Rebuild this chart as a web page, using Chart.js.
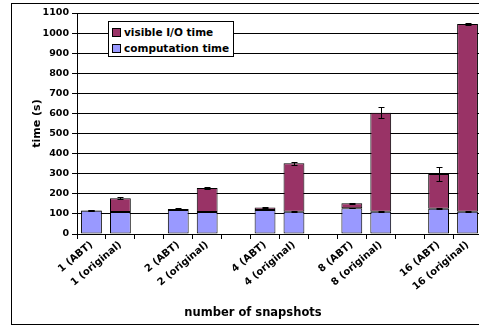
<!DOCTYPE html>
<html>
<head>
<meta charset="utf-8">
<script src="https://cdn.jsdelivr.net/npm/chart.js@4/dist/chart.umd.min.js"></script>
<style>
html,body{margin:0;padding:0;overflow:hidden;background:#fff;width:479px;height:328px;}
#frame{position:absolute;left:11px;top:3px;width:470px;height:320px;border:1px solid #000;}
#c{display:block;}
#legend{position:absolute;left:108px;top:21px;width:124px;height:34px;border:1px solid #000;background:#fff;
  font-family:"DejaVu Sans",sans-serif;font-weight:bold;font-size:10.5px;color:#000;}
.row{position:absolute;left:3px;height:14px;line-height:14px;white-space:nowrap;}
.sw{display:inline-block;width:7px;height:7px;border:1px solid #000;vertical-align:middle;margin-right:3px;position:relative;top:-1px;}
#xtitle{position:absolute;left:12px;width:482px;top:305px;text-align:center;font-family:"DejaVu Sans",sans-serif;font-weight:bold;font-size:11.5px;color:#000;}
</style>
</head>
<body>
<div id="frame"><canvas id="c" width="470" height="320"></canvas></div>
<div id="legend">
  <div class="row" style="top:3px"><span class="sw" style="background:#993366"></span>visible I/O time</div>
  <div class="row" style="top:19px"><span class="sw" style="background:#9999FF"></span>computation time</div>
</div>
<div id="xtitle">number of snapshots</div>
<script>
const categories = ["1 (ABT)","1 (original)","","2 (ABT)","2 (original)","","4 (ABT)","4 (original)","","8 (ABT)","8 (original)","","16 (ABT)","16 (original)"];
const computation = [116,110,null,119,110,null,120,111,null,128,111,null,126,111];
const ioTime      = [2,68,null,5,119,null,12,241,null,25,493,null,173,934];
const compError   = [1,2,null,1,2,null,1,2,null,1,2,null,1,2];
const ioError     = [2,5,null,3,5,null,3,7,null,3,29,null,33,4];
const yTicks = [0,100,200,300,400,500,600,700,800,900,1000,1100];

const errorBars = {
  id:'errorBars',
  afterDatasetsDraw(chart){
    const ctx = chart.ctx, y = chart.scales.y;
    const m0 = chart.getDatasetMeta(0), m1 = chart.getDatasetMeta(1);
    ctx.save();
    ctx.strokeStyle = '#000';
    ctx.lineWidth = 1;
    function draw(x, v, e){
      const t = Math.round(y.getPixelForValue(v+e))+0.5;
      const b = Math.round(y.getPixelForValue(v-e))+0.5;
      const xx = Math.round(x)+0.5;
      ctx.beginPath();
      ctx.moveTo(xx,t); ctx.lineTo(xx,b);
      ctx.moveTo(xx-3,t); ctx.lineTo(xx+3,t);
      ctx.moveTo(xx-3,b); ctx.lineTo(xx+3,b);
      ctx.stroke();
    }
    categories.forEach((c,i)=>{
      if (computation[i] == null) return;
      draw(m0.data[i].x, computation[i], compError[i]);
      draw(m1.data[i].x, computation[i]+ioTime[i], ioError[i]);
    });
    ctx.restore();
  }
};

const tickFontY = {family:'"DejaVu Sans", sans-serif', weight:'bold', size:9.5};
const tickFontX = {family:'"DejaVu Sans", sans-serif', weight:'bold', size:10};

new Chart(document.getElementById('c'), {
  type:'bar',
  data:{
    labels:categories,
    datasets:[
      {label:'computation time', data:computation, backgroundColor:'#9999FF', borderColor:'#000', borderWidth:1, borderSkipped:false,
       barPercentage:0.72, categoryPercentage:1.0},
      {label:'visible I/O time', data:ioTime, backgroundColor:'#993366', borderColor:'#000', borderWidth:1, borderSkipped:false,
       barPercentage:0.72, categoryPercentage:1.0}
    ]
  },
  options:{
    responsive:false,
    animation:false,
    devicePixelRatio:1,
    layout:{padding:{left:12,right:0,top:9,bottom:0}},
    plugins:{legend:{display:false}, tooltip:{enabled:false}, title:{display:false}},
    scales:{
      x:{
        stacked:true,
        offset:true,
        grid:{display:true, drawOnChartArea:false, offset:true, color:'#000', tickLength:5, lineWidth:1},
        border:{display:true, color:'#000', width:1},
        ticks:{color:'#000', font:tickFontX, minRotation:40, maxRotation:40, autoSkip:false, padding:0},
        afterFit(s){ s.height = 90; }
      },
      y:{
        stacked:true,
        min:0, max:1100,
        afterBuildTicks(s){ s.ticks = yTicks.map(v=>({value:v})); },
        grid:{color:'#000', lineWidth:1, tickLength:5},
        border:{display:true, color:'#000', width:1},
        ticks:{color:'#000', font:tickFontY, padding:3, callback:(v)=>String(v)},
        title:{display:true, text:'time (s)', color:'#000', font:{family:'"DejaVu Sans", sans-serif', weight:'bold', size:11}, padding:{top:6.4,bottom:0}},
        afterFit(s){ s.width = 53; }
      }
    }
  },
  plugins:[errorBars]
});
</script>
</body>
</html>
